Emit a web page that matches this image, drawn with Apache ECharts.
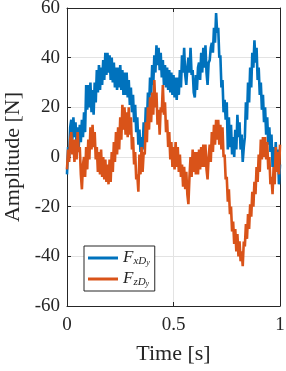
<!DOCTYPE html>
<html>
<head>
<meta charset="utf-8">
<script src="https://cdn.jsdelivr.net/npm/echarts@6/dist/echarts.min.js"></script>
<style>
html,body{margin:0;padding:0;background:#fff;}
#chart{width:286px;height:371px;}
</style>
</head>
<body>
<div id="chart"></div>
<script>
// Sample times: 201 samples from 0 to 1 s (step 0.005 s)
const sampleCount = 201;
const time = Array.from({length: sampleCount}, (_, i) => +(i / (sampleCount - 1)).toFixed(3));

// F_{xD_y} values [N]
const fxDy = [
 -7, 4, 0, 12, 15, 7, 16, 8, 14, 5,
 12, 4, 13, 6, 15, 8, 18, 10, 29, 19,
 29, 20, 30, 18, 27, 17, 30, 22, 35, 26,
 37, 27, 36, 29, 39, 31, 42, 33, 42, 34,
 41, 31, 40, 30, 38, 28, 36, 27, 36, 28,
 37, 27, 35, 25, 34, 25, 34, 24, 31, 21,
 28, 18, 25, 14, 21, 10, 16, 5, 11, 2,
 8, 3, 14, 8, 20, 13, 26, 19, 32, 25,
 37, 29, 41, 34, 45, 37, 44, 35, 42, 32,
 39, 29, 37, 28, 36, 27, 35, 26, 34, 25,
 33, 24, 32, 23, 32, 25, 35, 28, 41, 34,
 44, 33, 29, 36, 40, 34, 44, 33, 35, 26,
 24, 33, 27, 36, 38, 31, 42, 34, 44, 36,
 45, 34, 29, 38, 39, 44, 46, 42, 52, 46,
 58, 50, 52, 40, 41, 28, 31, 18, 23, 15,
 22, 3, 16, 4, 13, 1, 8, 0, 11, 3,
 17, 8, 14, 3, 9, -2, 4, 8, 22, 15,
 30, 22, 36, 28, 42, 36, 47, 38, 44, 31,
 36, 25, 30, 19, 25, 14, 20, 9, 16, 5,
 12, 2, 9, -4, 4, -6, 6, -5, 3, -11,
 -3
];

// F_{zD_y} values [N]
const fzDy = [
 -5, 3, -2, 7, 10, 1, 7, -2, 7, -1,
 10, 2, 4, -7, -13, -3, 0, -8, 4, -5,
 7, -1, 12, 3, 13, 4, 10, -1, 4, -6,
 2, -7, 3, -8, 0, -9, -1, -10, -3, -11,
 -1, -10, 2, -6, 6, -2, 10, 1, 12, 3,
 16, 7, 21, 11, 20, 9, 18, 8, 20, 9,
 16, 3, 8, -3, 2, -9, -7, -14, 1, -7,
 4, -6, 2, 1, 14, 6, 20, 11, 24, 14,
 26, 17, 31, 20, 26, 13, 19, 9, 20, 18,
 29, 17, 22, 10, 15, 4, 10, -1, 6, -4,
 4, -5, 6, -4, 4, -6, 1, -8, -3, -12,
 -4, -13, -6, -15, -19, -8, 0, -8, 3, -6,
 2, -7, 2, -7, 3, -5, 4, -4, 5, -4,
 5, -5, -9, 0, 5, -2, 10, 2, 13, 5,
 15, 7, 15, 5, 13, 3, 12, 0, 1, -9,
 -8, -18, -13, -23, -20, -30, -26, -35, -29, -38,
 -31, -40, -34, -42, -38, -44, -34, -36, -27, -33,
 -23, -29, -19, -24, -14, -20, -10, -15, -4, -10,
 1, -6, 7, -1, 8, 0, 8, -1, 6, -5,
 0, -11, -8, -15, -4, -11, 4, -6, 2, -7,
 5
];

// Axis ticks
const xTicks = {min: 0, max: 1, interval: 0.5};
const yTicks = {min: -60, max: 60, interval: 20};
const seriesNames = ['FxDy', 'FzDy'];

const axisColor = '#262626';
const gridColor = '#e3e3e3';
const serif = 'Liberation Serif';

const chart = echarts.init(document.getElementById('chart'), null, {renderer: 'canvas'});

const legendRich = {
  F: {fontFamily: serif, fontStyle: 'italic', fontSize: 17, color: axisColor, verticalAlign: 'top', lineHeight: 18},
  s: {fontFamily: serif, fontStyle: 'italic', fontSize: 11, color: axisColor, verticalAlign: 'bottom', lineHeight: 6},
  ss: {fontFamily: serif, fontStyle: 'italic', fontSize: 8, color: axisColor, verticalAlign: 'bottom', lineHeight: 1}
};

chart.setOption({
  animation: false,
  backgroundColor: '#fff',
  grid: {left: 67, right: 6, top: 8, bottom: 65, containLabel: false, outerBoundsMode: 'none'},
  xAxis: [
    {
      type: 'value', position: 'bottom', min: xTicks.min, max: xTicks.max, interval: xTicks.interval,
      name: 'Time [s]', nameLocation: 'middle', nameGap: 37,
      nameTextStyle: {fontFamily: serif, fontSize: 22, color: axisColor},
      axisLine: {show: true, onZero: false, lineStyle: {color: axisColor, width: 1}},
      axisTick: {show: true, inside: true, length: 4, lineStyle: {color: axisColor}},
      axisLabel: {fontFamily: serif, fontSize: 19, color: axisColor, margin: 10,
        formatter: v => String(v)},
      splitLine: {show: true, lineStyle: {color: gridColor, width: 1}}
    },
    {
      type: 'value', position: 'top', min: xTicks.min, max: xTicks.max, interval: xTicks.interval,
      axisLine: {show: true, onZero: false, lineStyle: {color: axisColor, width: 1}},
      axisTick: {show: true, inside: true, length: 4, lineStyle: {color: axisColor}},
      axisLabel: {show: false},
      splitLine: {show: false}
    }
  ],
  yAxis: [
    {
      type: 'value', position: 'left', min: yTicks.min, max: yTicks.max, interval: yTicks.interval,
      name: 'Amplitude [N]', nameLocation: 'middle', nameGap: 42,
      nameTextStyle: {fontFamily: serif, fontSize: 22, color: axisColor},
      axisLine: {show: true, onZero: false, lineStyle: {color: axisColor, width: 1}},
      axisTick: {show: true, inside: true, length: 4, lineStyle: {color: axisColor}},
      axisLabel: {fontFamily: serif, fontSize: 19, color: axisColor, margin: 7},
      splitLine: {show: true, lineStyle: {color: gridColor, width: 1}}
    },
    {
      type: 'value', position: 'right', min: yTicks.min, max: yTicks.max, interval: yTicks.interval,
      axisLine: {show: true, onZero: false, lineStyle: {color: axisColor, width: 1}},
      axisTick: {show: true, inside: true, length: 4, lineStyle: {color: axisColor}},
      axisLabel: {show: false},
      splitLine: {show: false}
    }
  ],
  legend: {
    left: 84, top: 246, orient: 'vertical',
    padding: [3, 5, 3, 4], itemGap: 3,
    itemWidth: 30, itemHeight: 14,
    backgroundColor: '#fff', borderColor: axisColor, borderWidth: 1, borderRadius: 0,
    data: seriesNames.map(n => ({name: n, icon: 'path://M0,0L30,0L30,3L0,3Z'})),
    formatter: name => name === 'FxDy'
      ? '{F|F}{s|x}{s|D}{ss|y}'
      : '{F|F}{s|z}{s|D}{ss|y}',
    textStyle: {rich: legendRich, padding: [0, 0, 0, 0]}
  },
  series: [
    {
      name: seriesNames[0], type: 'line', xAxisIndex: 0, yAxisIndex: 0,
      data: time.map((t, i) => [t, fxDy[i]]),
      showSymbol: false, symbol: 'none', clip: true,
      lineStyle: {color: '#0072BD', width: 2.6},
      itemStyle: {color: '#0072BD'}
    },
    {
      name: seriesNames[1], type: 'line', xAxisIndex: 0, yAxisIndex: 0,
      data: time.map((t, i) => [t, fzDy[i]]),
      showSymbol: false, symbol: 'none', clip: true,
      lineStyle: {color: '#D95319', width: 2.6},
      itemStyle: {color: '#D95319'}
    }
  ]
});
</script>
</body>
</html>
